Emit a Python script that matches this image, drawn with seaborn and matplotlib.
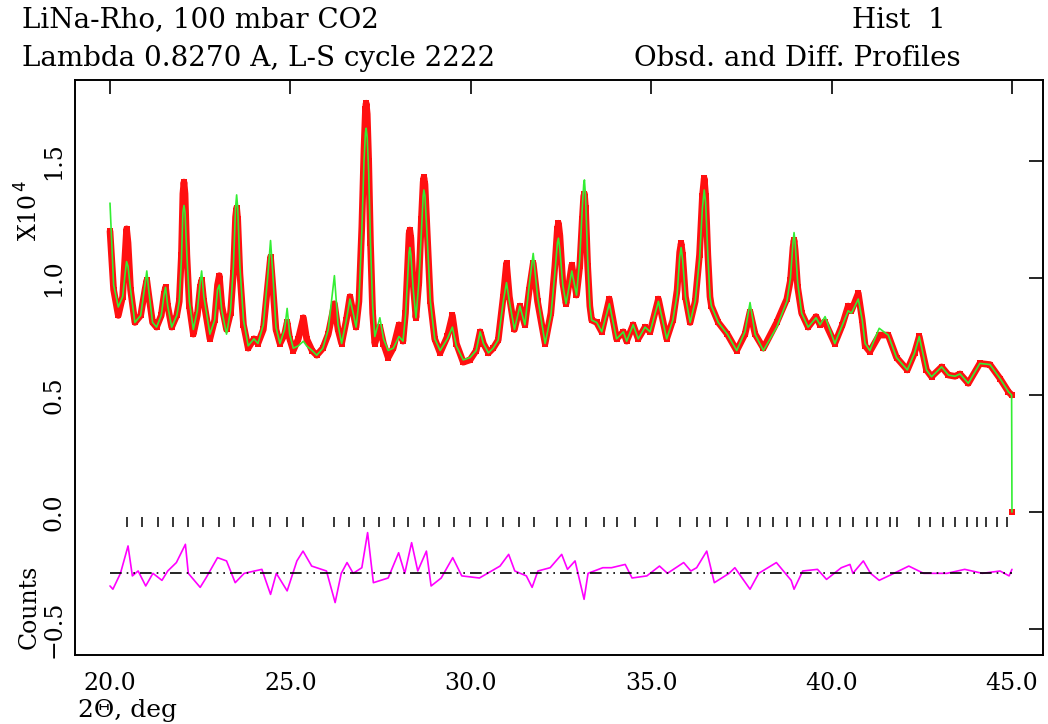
import numpy as np
import pandas as pd
import matplotlib
matplotlib.use("Agg")
import matplotlib.pyplot as plt
import seaborn as sns

# 2-theta vertices (deg) of the observed / calculated profiles
TWO_THETA = [
    20.00, 20.10, 20.23, 20.35, 20.42, 20.46, 20.50, 20.57, 20.69, 20.85,
    20.97, 21.02, 21.08, 21.18, 21.29, 21.42, 21.50, 21.54, 21.60, 21.71,
    21.85, 21.92, 21.98, 22.02, 22.05, 22.08, 22.13, 22.20, 22.31, 22.42,
    22.50, 22.54, 22.60, 22.77, 22.90, 22.98, 23.03, 23.10, 23.23, 23.34,
    23.42, 23.48, 23.51, 23.54, 23.60, 23.70, 23.83, 23.99, 24.10, 24.25,
    24.38, 24.45, 24.52, 24.60, 24.71, 24.84, 24.91, 24.98, 25.08, 25.22,
    25.36, 25.45, 25.60, 25.73, 25.90, 26.05, 26.22, 26.32, 26.42, 26.55,
    26.65, 26.74, 26.82, 26.90, 26.98, 27.04, 27.08, 27.10, 27.13, 27.17,
    27.22, 27.28, 27.34, 27.48, 27.58, 27.71, 27.85, 28.01, 28.12, 28.19,
    28.25, 28.29, 28.31, 28.34, 28.40, 28.48, 28.56, 28.63, 28.68, 28.70,
    28.73, 28.79, 28.88, 29.00, 29.15, 29.35, 29.49, 29.60, 29.79, 29.98,
    30.15, 30.26, 30.35, 30.49, 30.62, 30.76, 30.90, 30.99, 31.07, 31.21,
    31.36, 31.50, 31.62, 31.73, 31.85, 32.06, 32.22, 32.33, 32.40, 32.43,
    32.47, 32.55, 32.64, 32.80, 32.93, 33.02, 33.09, 33.13, 33.15, 33.18,
    33.24, 33.30, 33.35, 33.49, 33.63, 33.84, 34.04, 34.23, 34.32, 34.50,
    34.64, 34.83, 34.97, 35.20, 35.43, 35.60, 35.72, 35.79, 35.83, 35.87,
    35.95, 36.08, 36.22, 36.34, 36.42, 36.47, 36.51, 36.57, 36.63, 36.67,
    36.86, 37.11, 37.37, 37.60, 37.74, 37.88, 38.11, 38.48, 38.76, 38.86,
    38.93, 38.96, 38.99, 39.06, 39.17, 39.35, 39.57, 39.68, 39.82, 40.09,
    40.30, 40.46, 40.55, 40.74, 40.85, 40.93, 41.06, 41.32, 41.57, 41.80,
    42.10, 42.30, 42.43, 42.63, 42.77, 43.05, 43.24, 43.42, 43.56, 43.79,
    44.11, 44.39, 44.67, 44.90, 44.99, 45.00,
]
# observed intensity (x10^4 counts)
OBSERVED = [
    1.20, 0.95, 0.84, 0.92, 1.10, 1.21, 1.15, 0.95, 0.81, 0.84,
    0.95, 0.99, 0.92, 0.81, 0.79, 0.84, 0.93, 0.96, 0.88, 0.79,
    0.84, 0.90, 1.10, 1.36, 1.41, 1.36, 1.10, 0.88, 0.76, 0.84,
    0.96, 0.99, 0.90, 0.74, 0.82, 0.97, 1.01, 0.88, 0.78, 0.85,
    1.02, 1.26, 1.30, 1.25, 1.02, 0.80, 0.70, 0.74, 0.72, 0.78,
    0.98, 1.09, 0.95, 0.78, 0.72, 0.76, 0.81, 0.74, 0.69, 0.74,
    0.83, 0.74, 0.69, 0.67, 0.70, 0.76, 0.89, 0.78, 0.72, 0.82,
    0.92, 0.85, 0.79, 0.90, 1.22, 1.55, 1.72, 1.747, 1.70, 1.50,
    1.15, 0.85, 0.72, 0.79, 0.72, 0.66, 0.70, 0.80, 0.73, 0.85,
    1.05, 1.19, 1.205, 1.17, 0.98, 0.83, 0.98, 1.25, 1.41, 1.43,
    1.40, 1.20, 0.90, 0.74, 0.68, 0.75, 0.84, 0.72, 0.64, 0.65,
    0.69, 0.77, 0.72, 0.68, 0.70, 0.735, 0.92, 1.063, 0.92, 0.78,
    0.88, 0.80, 0.95, 1.063, 0.90, 0.72, 0.85, 1.05, 1.21, 1.234,
    1.18, 0.98, 0.89, 1.055, 0.927, 1.05, 1.25, 1.35, 1.36, 1.30,
    1.05, 0.88, 0.82, 0.81, 0.77, 0.91, 0.74, 0.77, 0.73, 0.80,
    0.74, 0.79, 0.77, 0.91, 0.74, 0.82, 0.95, 1.11, 1.148, 1.10,
    0.92, 0.81, 0.90, 1.10, 1.35, 1.426, 1.35, 1.10, 0.92, 0.88,
    0.81, 0.76, 0.69, 0.76, 0.856, 0.76, 0.70, 0.81, 0.91, 0.99,
    1.13, 1.162, 1.12, 0.96, 0.85, 0.79, 0.835, 0.80, 0.81, 0.72,
    0.80, 0.88, 0.86, 0.935, 0.82, 0.71, 0.685, 0.756, 0.756, 0.66,
    0.607, 0.68, 0.75, 0.607, 0.578, 0.62, 0.585, 0.58, 0.59, 0.55,
    0.635, 0.63, 0.57, 0.514, 0.50, 0.00,
]
# calculated intensity (x10^4 counts)
CALCULATED = [
    1.32, 0.97, 0.876, 0.92, 1.02, 1.07, 1.05, 0.95, 0.81, 0.84,
    0.97, 1.03, 0.94, 0.81, 0.79, 0.84, 0.93, 0.96, 0.88, 0.79,
    0.84, 0.90, 1.08, 1.28, 1.31, 1.28, 1.10, 0.90, 0.78, 0.86,
    0.98, 1.03, 0.92, 0.76, 0.82, 0.95, 0.97, 0.86, 0.76, 0.86,
    1.05, 1.30, 1.355, 1.30, 1.05, 0.82, 0.71, 0.74, 0.72, 0.80,
    1.02, 1.16, 1.00, 0.79, 0.72, 0.78, 0.87, 0.76, 0.70, 0.71,
    0.73, 0.71, 0.69, 0.67, 0.70, 0.78, 1.01, 0.80, 0.72, 0.82,
    0.91, 0.85, 0.79, 0.90, 1.20, 1.50, 1.62, 1.64, 1.60, 1.45,
    1.15, 0.88, 0.75, 0.83, 0.74, 0.69, 0.70, 0.75, 0.73, 0.84,
    1.00, 1.11, 1.13, 1.10, 0.96, 0.83, 0.98, 1.20, 1.35, 1.376,
    1.35, 1.18, 0.90, 0.74, 0.69, 0.74, 0.79, 0.71, 0.65, 0.66,
    0.69, 0.77, 0.72, 0.68, 0.70, 0.735, 0.90, 0.98, 0.90, 0.78,
    0.88, 0.80, 0.97, 1.105, 0.92, 0.72, 0.84, 1.02, 1.15, 1.17,
    1.12, 0.97, 0.89, 1.03, 0.927, 1.08, 1.30, 1.40, 1.419, 1.35,
    1.08, 0.88, 0.82, 0.81, 0.77, 0.89, 0.74, 0.77, 0.73, 0.80,
    0.74, 0.79, 0.77, 0.90, 0.74, 0.82, 0.93, 1.09, 1.13, 1.08,
    0.92, 0.81, 0.90, 1.08, 1.30, 1.376, 1.32, 1.10, 0.92, 0.88,
    0.81, 0.76, 0.69, 0.77, 0.895, 0.76, 0.69, 0.79, 0.90, 1.00,
    1.15, 1.194, 1.15, 0.98, 0.85, 0.79, 0.83, 0.80, 0.835, 0.72,
    0.80, 0.86, 0.85, 0.91, 0.82, 0.72, 0.69, 0.785, 0.756, 0.66,
    0.607, 0.68, 0.75, 0.607, 0.578, 0.62, 0.585, 0.58, 0.59, 0.55,
    0.635, 0.63, 0.57, 0.514, 0.50, 0.00,
]

# Difference curve (obs - calc), drawn about its own offset baseline
DIFF_TWO_THETA = [
    20.00, 20.08, 20.29, 20.50, 20.62, 20.78, 20.99, 21.19, 21.44, 21.60,
    21.84, 22.09, 22.17, 22.50, 22.66, 22.98, 23.23, 23.47, 23.72, 24.21,
    24.45, 24.61, 24.91, 25.18, 25.35, 25.59, 26.00, 26.24, 26.41, 26.57,
    26.74, 26.98, 27.14, 27.30, 27.71, 28.00, 28.17, 28.36, 28.53, 28.77,
    28.90, 29.18, 29.50, 29.75, 30.24, 30.81, 31.05, 31.22, 31.54, 31.70,
    31.86, 32.20, 32.52, 32.68, 32.89, 33.14, 33.25, 33.66, 33.90, 34.28,
    34.47, 34.88, 35.23, 35.45, 35.90, 36.10, 36.26, 36.54, 36.75, 37.16,
    37.32, 37.74, 37.98, 38.47, 38.88, 38.96, 39.20, 39.61, 39.86, 40.27,
    40.51, 40.59, 40.88, 41.08, 41.32, 41.73, 42.14, 42.55, 43.20, 43.69,
    44.18, 44.67, 44.92, 45.00,
]
DIFFERENCE = [
    -0.054, -0.068, 0.000, 0.117, -0.011, 0.010, -0.054, 0.000, -0.030, 0.010,
    0.046, 0.124, 0.000, -0.060, -0.020, 0.067, 0.053, -0.040, 0.000, 0.017,
    -0.090, 0.000, -0.075, 0.053, 0.095, 0.031, 0.010, -0.125, 0.000, 0.046,
    0.000, 0.024, 0.174, -0.040, -0.020, 0.088, 0.000, 0.131, 0.010, 0.095,
    -0.054, -0.020, 0.067, -0.011, -0.020, 0.031, 0.081, 0.010, -0.011, -0.060,
    0.010, 0.024, 0.081, 0.017, 0.053, -0.111, 0.000, 0.024, 0.024, 0.038,
    -0.020, -0.011, 0.031, 0.000, 0.046, 0.010, 0.024, 0.095, -0.040, 0.000,
    0.024, -0.068, 0.000, 0.046, -0.030, -0.068, 0.010, 0.017, -0.026, 0.024,
    0.038, 0.000, 0.053, 0.000, -0.030, 0.000, 0.031, 0.000, 0.000, 0.017,
    0.000, 0.010, -0.011, 0.017,
]
DIFF_BASELINE = -0.262

# Reflection positions (2-theta, deg)
REFLECTIONS = [
    20.47, 20.89, 21.33, 21.75, 22.16, 22.58, 23.02, 23.44, 23.96, 24.43,
    24.91, 25.35, 26.21, 26.62, 27.04, 27.46, 27.87, 28.26, 28.70, 29.12,
    29.53, 29.98, 30.45, 30.89, 31.34, 31.75, 32.39, 32.75, 33.19, 33.69,
    34.05, 34.55, 35.16, 35.80, 36.27, 36.63, 37.10, 37.68, 38.02, 38.38,
    38.77, 39.13, 39.48, 39.87, 40.23, 40.59, 40.98, 41.26, 41.62, 41.81,
    42.42, 42.73, 43.09, 43.42, 43.75, 44.03, 44.28, 44.58, 44.86,
]

X_TICKS = [20.0, 25.0, 30.0, 35.0, 40.0, 45.0]
Y_TICKS = [-0.5, 0.0, 0.5, 1.0, 1.5]

sns.set_theme(style="white")
plt.rcParams["font.family"] = ["DejaVu Serif"]
FS = 17
FS_HEAD = 20

W, H = 1048, 724
fig = plt.figure(figsize=(W / 100, H / 100), dpi=100)
fig.patch.set_facecolor("white")
ax = fig.add_axes([75 / W, (H - 655) / H, 968 / W, 575 / H])

profile = pd.DataFrame({"two_theta": TWO_THETA, "obs": OBSERVED, "calc": CALCULATED})
measured = profile[profile["obs"] > 0]
diff = pd.DataFrame({"two_theta": DIFF_TWO_THETA,
                     "diff": np.asarray(DIFFERENCE) + DIFF_BASELINE})

# observed points: heavy red band
sns.lineplot(data=measured, x="two_theta", y="obs", color="#ff1010", lw=4.8,
             sort=False, estimator=None, ax=ax, legend=False)
sns.scatterplot(data=profile, x="two_theta", y="obs", color="#ff1010", marker="s",
                s=14, linewidth=0, ax=ax, legend=False, zorder=3)
# calculated profile
sns.lineplot(data=profile, x="two_theta", y="calc", color="#33ee33", lw=1.2,
             sort=False, estimator=None, ax=ax, legend=False, zorder=4)
# difference curve
sns.lineplot(data=diff, x="two_theta", y="diff", color="#ff00ff", lw=1.2,
             sort=False, estimator=None, ax=ax, legend=False)
ax.hlines(DIFF_BASELINE, X_TICKS[0], X_TICKS[-1], color="black", lw=1.2,
          linestyles=[(0, (7, 3, 1, 3, 1, 3))], zorder=2)
# reflection markers
ax.vlines(REFLECTIONS, -0.064, -0.021, color="black", lw=1.1)

ax.set_xlim(19.03, 45.86)
ax.set_ylim(-0.611, 1.846)
ax.set_xticks(X_TICKS)
ax.set_xticklabels([f"{t:.1f}" for t in X_TICKS])
ax.set_yticks(Y_TICKS)
ax.set_yticklabels([f"{t:.1f}".replace("-", "\u2212") for t in Y_TICKS],
                   rotation=90, va="center")
ax.set_xlabel("")
ax.set_ylabel("")
ax.tick_params(axis="both", direction="in", length=10, width=1.2, color="black",
               top=True, right=True, labelsize=FS, labelcolor="black")
ax.tick_params(axis="x", pad=12)
ax.tick_params(axis="y", pad=7)
for sp in ax.spines.values():
    sp.set_color("black")
    sp.set_linewidth(1.4)

def ftext(x, y, s, size=FS, **kw):
    fig.text(x / W, 1 - y / H, s, fontsize=size, color="black", **kw)

ftext(22, 20, "LiNa-Rho, 100 mbar CO2", size=FS_HEAD, ha="left", va="center")
ftext(22, 58, "Lambda 0.8270 A, L-S cycle 2222", size=FS_HEAD, ha="left", va="center")
ftext(852, 20, "Hist  1", size=FS_HEAD, ha="left", va="center")
ftext(634, 58, "Obsd. and Diff. Profiles", size=FS_HEAD, ha="left", va="center")
ftext(78, 710, "2\u0398, deg", size=18, ha="left", va="center")
ftext(29, 210, "X10$^{\\,4}$", ha="center", va="center", rotation=90)
ftext(29, 607, "Counts", ha="center", va="center", rotation=90)

fig.savefig("out.png", dpi=100, facecolor="white")
